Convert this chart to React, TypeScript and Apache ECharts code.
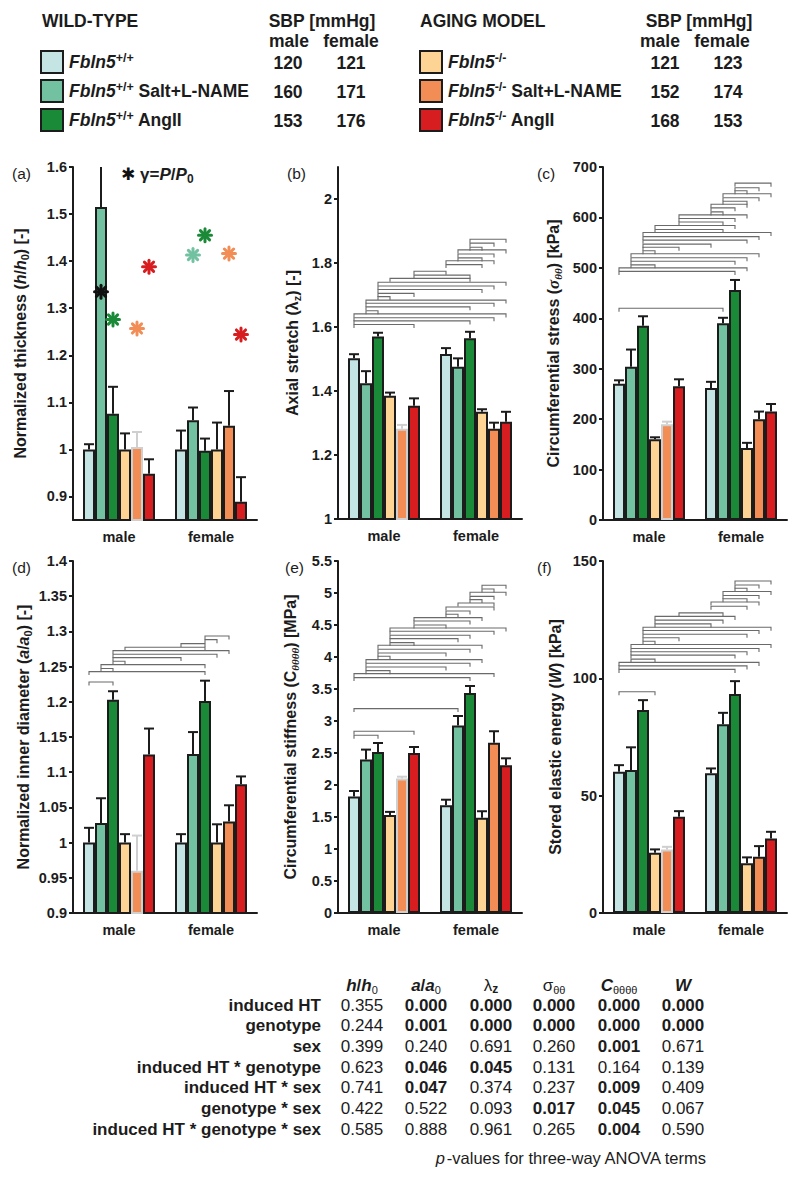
import React, { useEffect, useRef } from 'react';
import * as echarts from 'echarts';

const FONT = "'Liberation Sans', Arial, Helvetica, sans-serif";
const SERIF = "'Liberation Serif', 'Times New Roman', serif";

// ---------- categories ----------
const sexes = ['male', 'female'];
const groupKeys = ['wt', 'wtSalt', 'wtAng', 'ko', 'koSalt', 'koAng'];
const groupColors = ['#c4e5e3', '#72c1a1', '#1b8a38', '#fdd493', '#f18d55', '#d71d1f'];

// ---------- legend / SBP ----------
const sbpMale = [120, 160, 153, 121, 152, 168];
const sbpFemale = [121, 171, 176, 123, 174, 153];

// ---------- (a) normalized thickness h/h0 ----------
const hMaleMean = [1.0, 1.515, 1.076, 1.0, 1.005, 0.948];
const hMaleErr = [1.011, 1.6, 1.133, 1.034, 1.037, 0.979];
const hFemaleMean = [1.0, 1.062, 0.997, 1.0, 1.05, 0.889];
const hFemaleErr = [1.04, 1.089, 1.023, 1.057, 1.124, 0.941];
const hTicks = [0.9, 1, 1.1, 1.2, 1.3, 1.4, 1.5, 1.6];
const gammaMale = [null, 1.335, 1.276, null, 1.257, 1.388];
const gammaFemale = [null, 1.413, 1.455, null, 1.416, 1.244];

// ---------- (b) axial stretch ----------
const lzMaleMean = [1.502, 1.424, 1.57, 1.385, 1.282, 1.354];
const lzMaleErr = [1.515, 1.462, 1.582, 1.395, 1.294, 1.377];
const lzFemaleMean = [1.516, 1.476, 1.565, 1.335, 1.282, 1.304];
const lzFemaleErr = [1.534, 1.502, 1.585, 1.343, 1.301, 1.335];
const lzTicks = [1, 1.2, 1.4, 1.6, 1.8, 2];
const lzBrackets = [
  [8, 11, 1.874], [8, 10, 1.862], [8, 9, 1.849], [7, 11, 1.841], [7, 10, 1.828], [7, 9, 1.816],
  [6, 10, 1.807], [6, 9, 1.795], [5, 6, 1.774], [5, 8, 1.762], [3, 8, 1.752], [2, 11, 1.74],
  [2, 10, 1.728], [2, 9, 1.717], [2, 5, 1.705], [2, 3, 1.695], [1, 11, 1.684], [1, 10, 1.674],
  [1, 8, 1.663], [1, 2, 1.651], [0, 11, 1.641], [0, 10, 1.629], [0, 8, 1.619], [0, 5, 1.608],
];

// ---------- (c) circumferential stress ----------
const sMaleMean = [270, 304, 385, 160, 190, 265];
const sMaleErr = [277, 338, 404, 164, 195, 279];
const sFemaleMean = [262, 390, 456, 143, 200, 215];
const sFemaleErr = [274, 401, 476, 153, 215, 230];
const sTicks = [0, 100, 200, 300, 400, 500, 600, 700];
const sBrackets = [
  [8, 11, 668], [8, 10, 659], [8, 9, 653], [7, 11, 647], [7, 10, 639], [7, 9, 632], [6, 9, 626],
  [6, 8, 619], [6, 7, 611], [5, 9, 605], [5, 8, 598], [5, 7, 591], [3, 8, 584], [3, 7, 576],
  [2, 11, 570], [2, 10, 562], [2, 9, 555], [2, 6, 547], [2, 5, 541], [2, 3, 534], [1, 10, 528],
  [1, 9, 520], [1, 8, 513], [1, 3, 506], [0, 9, 500], [0, 8, 493], [0, 7, 420],
];

// ---------- (d) normalized inner diameter ----------
const aMaleMean = [1.0, 1.028, 1.203, 1.0, 0.96, 1.125];
const aMaleErr = [1.021, 1.063, 1.215, 1.012, 1.01, 1.162];
const aFemaleMean = [1.0, 1.126, 1.201, 1.0, 1.03, 1.083];
const aFemaleErr = [1.012, 1.157, 1.23, 1.026, 1.053, 1.094];
const aTicks = [0.9, 0.95, 1, 1.05, 1.1, 1.15, 1.2, 1.25, 1.3, 1.35, 1.4];
const aBrackets = [
  [8, 10, 1.2935], [8, 9, 1.2883], [6, 8, 1.2827], [3, 8, 1.2774], [2, 10, 1.2727], [2, 9, 1.2675],
  [2, 6, 1.2628], [2, 3, 1.2575], [1, 8, 1.2528], [1, 2, 1.2472], [0, 8, 1.2429], [0, 2, 1.2281],
];

// ---------- (e) circumferential stiffness ----------
const cMaleMean = [1.82, 2.4, 2.516, 1.53, 2.1, 2.5];
const cMaleErr = [1.906, 2.553, 2.656, 1.58, 2.13, 2.594];
const cFemaleMean = [1.683, 2.928, 3.438, 1.49, 2.66, 2.308];
const cFemaleErr = [1.77, 3.078, 3.547, 1.59, 2.84, 2.417];
const cTicks = [0, 0.5, 1, 1.5, 2, 2.5, 3, 3.5, 4, 4.5, 5, 5.5];
const cBrackets = [
  [9, 11, 5.12], [9, 10, 5.063], [8, 11, 5.011], [8, 10, 4.948], [8, 9, 4.897], [7, 10, 4.844],
  [6, 10, 4.781], [6, 8, 4.719], [6, 7, 4.667], [5, 9, 4.616], [5, 8, 4.563], [5, 6, 4.5],
  [3, 11, 4.453], [3, 10, 4.402], [3, 8, 4.339], [3, 7, 4.287], [3, 5, 4.225], [2, 9, 4.183],
  [2, 8, 4.12], [2, 6, 4.063], [2, 3, 4.011], [1, 9, 3.959], [1, 8, 3.902], [1, 6, 3.844],
  [1, 3, 3.787], [0, 10, 3.741], [0, 8, 3.678], [0, 7, 3.194], [0, 5, 2.839], [0, 2, 2.777],
];

// ---------- (f) stored elastic energy ----------
const wMaleMean = [60.2, 60.9, 86.5, 25.7, 27.1, 41.0];
const wMaleErr = [63.0, 70.6, 90.7, 27.1, 28.2, 43.4];
const wFemaleMean = [59.5, 80.4, 93.3, 21.2, 24.0, 31.8];
const wFemaleErr = [61.6, 85.3, 98.8, 23.7, 28.5, 34.6];
const wTicks = [0, 50, 100, 150];
const wBrackets = [
  [8, 11, 141.5], [8, 10, 139.8], [8, 9, 138.4], [7, 11, 137.0], [7, 10, 135.3], [7, 9, 133.9],
  [6, 10, 132.5], [6, 9, 130.7], [5, 7, 127.9], [3, 8, 126.4], [3, 7, 124.8], [3, 6, 123.2],
  [2, 11, 121.8], [2, 10, 120.4], [2, 9, 118.8], [2, 5, 117.3], [2, 3, 115.8], [1, 11, 114.4],
  [1, 10, 112.7], [1, 9, 111.3], [1, 8, 109.9], [1, 3, 108.2], [0, 10, 106.8], [0, 9, 105.3],
  [0, 8, 103.8], [0, 3, 94.3],
];

// ---------- ANOVA table ----------
const anovaTerms = [
  'induced HT', 'genotype', 'sex', 'induced HT * genotype', 'induced HT * sex',
  'genotype * sex', 'induced HT * genotype * sex',
];
const pThickness = ['0.355', '0.244', '0.399', '0.623', '0.741', '0.422', '0.585'];
const pDiameter = ['0.000', '0.001', '0.240', '0.046', '0.047', '0.522', '0.888'];
const pStretch = ['0.000', '0.000', '0.691', '0.045', '0.374', '0.093', '0.961'];
const pStress = ['0.000', '0.000', '0.260', '0.131', '0.237', '0.017', '0.265'];
const pStiffness = ['0.000', '0.000', '0.001', '0.164', '0.009', '0.045', '0.004'];
const pEnergy = ['0.000', '0.000', '0.671', '0.139', '0.409', '0.067', '0.590'];

// ---------- layout / style ----------
const BAR_W = 12;
const INK = '#1c1c1c';
const GREY = '#cfcfcf';

const nameRich = {
  t: { fontSize: 16, fontWeight: 'bold', fontFamily: FONT, color: INK, lineHeight: 20 },
  ti: { fontSize: 16, fontWeight: 'bold', fontStyle: 'italic', fontFamily: FONT, color: INK, lineHeight: 20 },
  ts: { fontSize: 11, fontWeight: 'bold', fontFamily: FONT, color: INK, lineHeight: 10, verticalAlign: 'bottom' },
  g: { fontSize: 17, fontWeight: 'bold', fontStyle: 'italic', fontFamily: SERIF, color: INK, lineHeight: 20 },
  gs: { fontSize: 11, fontWeight: 'bold', fontStyle: 'italic', fontFamily: SERIF, color: INK, lineHeight: 10, verticalAlign: 'bottom' },
};

const panels = [
  {
    label: '(a)', maleMean: hMaleMean, maleErr: hMaleErr, femaleMean: hFemaleMean, femaleErr: hFemaleErr,
    ticks: hTicks, min: 0.85, max: 1.6, brackets: [] as number[][],
    name: '{t|Normalized thickness (}{ti|h}{t|/}{ti|h}{ts|0}{t|) [-]}',
    left: 73, top: 167, height: 353, nameGap: 43, labelX: 12,
  },
  {
    label: '(b)', maleMean: lzMaleMean, maleErr: lzMaleErr, femaleMean: lzFemaleMean, femaleErr: lzFemaleErr,
    ticks: lzTicks, min: 1, max: 2.1, brackets: lzBrackets,
    name: '{t|Axial stretch (λ}{ts|z}{t|) [-]}',
    left: 338, top: 167, height: 352, nameGap: 36, labelX: 287,
  },
  {
    label: '(c)', maleMean: sMaleMean, maleErr: sMaleErr, femaleMean: sFemaleMean, femaleErr: sFemaleErr,
    ticks: sTicks, min: 0, max: 700, brackets: sBrackets,
    name: '{t|Circumferential stress (}{g|σ}{gs|θθ}{t|) [kPa]}',
    left: 603, top: 167, height: 353, nameGap: 40, labelX: 537,
  },
  {
    label: '(d)', maleMean: aMaleMean, maleErr: aMaleErr, femaleMean: aFemaleMean, femaleErr: aFemaleErr,
    ticks: aTicks, min: 0.9, max: 1.4, brackets: aBrackets,
    name: '{t|Normalized inner diameter (}{ti|a}{t|/}{ti|a}{ts|0}{t|) [-]}',
    left: 73, top: 561, height: 352, nameGap: 40, labelX: 12,
  },
  {
    label: '(e)', maleMean: cMaleMean, maleErr: cMaleErr, femaleMean: cFemaleMean, femaleErr: cFemaleErr,
    ticks: cTicks, min: 0, max: 5.5, brackets: cBrackets,
    name: '{t|Circumferential stiffness (C}{gs|θθθθ}{t|) [MPa]}',
    left: 338, top: 561, height: 352, nameGap: 38, labelX: 285,
  },
  {
    label: '(f)', maleMean: wMaleMean, maleErr: wMaleErr, femaleMean: wFemaleMean, femaleErr: wFemaleErr,
    ticks: wTicks, min: 0, max: 150, brackets: wBrackets,
    name: '{t|Stored elastic energy (}{ti|W}{t|) [kPa]}',
    left: 603, top: 561, height: 352, nameGap: 38, labelX: 537,
  },
];

function isGrey(cat: number, g: number) {
  return cat === 0 && g === 4;
}

function buildOption() {
  const grid = panels.map((p) => ({ left: p.left, top: p.top, width: 184, height: p.height }));
  const xAxis = panels.map((p, i) => ({
    type: 'category', gridIndex: i, data: sexes,
    axisLine: { onZero: false, lineStyle: { color: INK, width: 2 } },
    axisTick: { alignWithLabel: true, length: 4, lineStyle: { color: INK, width: 2 } },
    axisLabel: { fontSize: 14.5, fontWeight: 'bold', fontFamily: FONT, color: INK, margin: 9 },
  }));
  const yAxis = panels.map((p, i) => ({
    type: 'value', gridIndex: i, min: p.min, max: p.max,
    splitLine: { show: false },
    axisLine: { show: true, lineStyle: { color: INK, width: 2 } },
    axisTick: { show: true, length: 4, customValues: p.ticks, lineStyle: { color: INK, width: 2 } },
    axisLabel: { customValues: p.ticks, fontSize: 14.5, fontWeight: 'bold', fontFamily: FONT, color: INK, margin: 6 },
    name: p.name, nameLocation: 'middle', nameRotate: 90, nameGap: p.nameGap,
    nameTextStyle: { rich: nameRich, fontSize: 16, fontWeight: 'bold', fontFamily: FONT, color: INK },
  }));

  const series: any[] = [];
  panels.forEach((p, i) => {
    groupKeys.forEach((key, g) => {
      series.push({
        type: 'bar', name: key, xAxisIndex: i, yAxisIndex: i, barWidth: BAR_W, barGap: '0%',
        silent: true, z: 2,
        itemStyle: { color: groupColors[g], borderColor: INK, borderWidth: 2 },
        data: [
          isGrey(0, g)
            ? { value: p.maleMean[g], itemStyle: { borderColor: GREY, borderWidth: 2 } }
            : p.maleMean[g],
          p.femaleMean[g],
        ],
      });
    });
    // error bars
    const errData: number[][] = [];
    groupKeys.forEach((_, g) => {
      errData.push([0, p.maleErr[g], g, p.maleMean[g]]);
      errData.push([1, p.femaleErr[g], g, p.femaleMean[g]]);
    });
    const axMax = p.max;
    series.push({
      type: 'custom', xAxisIndex: i, yAxisIndex: i, z: 4, silent: true,
      encode: { x: 0, y: 1 },
      data: errData,
      renderItem: (params: any, api: any) => {
        const cat = api.value(0);
        const err = api.value(1);
        const g = api.value(2);
        const mean = api.value(3);
        const top = api.coord([cat, err]);
        const base = api.coord([cat, mean]);
        const x = base[0] + (g - 2.5) * BAR_W;
        const color = isGrey(cat, g) ? GREY : INK;
        const children: any[] = [
          { type: 'line', shape: { x1: x, y1: base[1], x2: x, y2: top[1] }, style: { stroke: color, lineWidth: 2 } },
        ];
        if (err < axMax - 1e-9) {
          children.push({
            type: 'line', shape: { x1: x - 5, y1: top[1], x2: x + 5, y2: top[1] },
            style: { stroke: color, lineWidth: 2 },
          });
        }
        return { type: 'group', children };
      },
    });
    // significance brackets
    if (p.brackets.length) {
      series.push({
        type: 'custom', xAxisIndex: i, yAxisIndex: i, z: 3, silent: true,
        encode: { x: 0, y: 1 },
        data: p.brackets.map((b) => [Math.floor(b[0] / 6), b[2], b[0] % 6, Math.floor(b[1] / 6), b[1] % 6]),
        renderItem: (params: any, api: any) => {
          const p1 = api.coord([api.value(0), api.value(1)]);
          const p2 = api.coord([api.value(3), api.value(1)]);
          const x1 = p1[0] + (api.value(2) - 2.5) * BAR_W;
          const x2 = p2[0] + (api.value(4) - 2.5) * BAR_W;
          const y = p1[1];
          return {
            type: 'polyline',
            shape: { points: [[x1, y + 3.5], [x1, y], [x2, y], [x2, y + 3.5]] },
            style: { stroke: '#6a6a6a', lineWidth: 1.1, fill: 'none' },
          };
        },
      });
    }
  });

  // gamma asterisks in panel (a)
  const gammaData: number[][] = [];
  groupKeys.forEach((_, g) => {
    if (gammaMale[g] != null) gammaData.push([0, gammaMale[g] as number, g]);
    if (gammaFemale[g] != null) gammaData.push([1, gammaFemale[g] as number, g]);
  });
  series.push({
    type: 'custom', xAxisIndex: 0, yAxisIndex: 0, z: 5, silent: true,
    encode: { x: 0, y: 1 },
    data: gammaData,
    renderItem: (params: any, api: any) => {
      const cat = api.value(0);
      const v = api.value(1);
      const g = api.value(2);
      const c = api.coord([cat, v]);
      const x = c[0] + (g - 2.5) * BAR_W;
      const y = c[1];
      const barTop = cat === 0 ? hMaleMean[g] : hFemaleMean[g];
      const color = v < barTop ? '#111' : groupColors[g];
      const r = 6.5;
      const spokes = [0, 1, 2, 3].map((k) => {
        const a = (k * Math.PI) / 4;
        return {
          type: 'line',
          shape: { x1: x - r * Math.cos(a), y1: y - r * Math.sin(a), x2: x + r * Math.cos(a), y2: y + r * Math.sin(a) },
          style: { stroke: color, lineWidth: 3, lineCap: 'round' },
        };
      });
      return { type: 'group', children: spokes };
    },
  });

  // ---------- graphic: legend, panel labels, table ----------
  const graphic: any[] = [];
  const txt = (x: number, y: number, text: string, extra: any = {}) => ({
    type: 'text', x, y, silent: true,
    style: {
      text, fill: INK, fontFamily: FONT, fontSize: 17.5, fontWeight: 'bold',
      textAlign: 'left', textVerticalAlign: 'middle', align: 'left', verticalAlign: 'middle', ...extra,
    },
  });
  const legRich = {
    it: { fontSize: 17.5, fontWeight: 'bold', fontStyle: 'italic', fontFamily: FONT, fill: INK, color: INK, lineHeight: 22 },
    sup: { fontSize: 12.5, fontWeight: 'bold', fontFamily: FONT, fill: INK, color: INK, lineHeight: 12, verticalAlign: 'top' },
    b: { fontSize: 17.5, fontWeight: 'bold', fontFamily: FONT, fill: INK, color: INK, lineHeight: 22 },
  };
  graphic.push(txt(42, 21, 'WILD-TYPE'));
  graphic.push(txt(322, 21, 'SBP [mmHg]', { textAlign: 'center', align: 'center' }));
  graphic.push(txt(289, 41, 'male', { textAlign: 'center', align: 'center' }));
  graphic.push(txt(351, 41, 'female', { textAlign: 'center', align: 'center' }));
  graphic.push(txt(420, 21, 'AGING MODEL'));
  graphic.push(txt(699, 21, 'SBP [mmHg]', { textAlign: 'center', align: 'center' }));
  graphic.push(txt(660, 41, 'male', { textAlign: 'center', align: 'center' }));
  graphic.push(txt(722, 41, 'female', { textAlign: 'center', align: 'center' }));
  const rowY = [62, 91, 120];
  const suffixes = ['', ' Salt+L-NAME', ' AngII'];
  groupKeys.forEach((_, g) => {
    const aging = g >= 3;
    const r = g % 3;
    const sx = aging ? 420 : 41;
    const y = rowY[r];
    graphic.push({
      type: 'rect', silent: true,
      shape: { x: sx, y: y - 11, width: 22, height: 22 },
      style: { fill: groupColors[g], stroke: INK, lineWidth: 2 },
    });
    const sup = aging ? '-/-' : '+/+';
    const text = `{it|Fbln5}{sup|${sup}}` + (suffixes[r] ? `{b|${suffixes[r]}}` : '');
    graphic.push(txt(sx + 28, y, text, { rich: legRich }));
    graphic.push(txt(aging ? 665 : 288, y + 1, String(sbpMale[g]), { textAlign: 'center', align: 'center' }));
    graphic.push(txt(aging ? 728 : 351, y + 1, String(sbpFemale[g]), { textAlign: 'center', align: 'center' }));
  });

  // panel labels
  panels.forEach((p) => {
    graphic.push(txt(p.labelX, p.top + 6, p.label, { fontSize: 15.5, fontWeight: 'normal' }));
  });
  // gamma legend in (a)
  graphic.push(txt(121, 174, '{s|✱} {g|γ=}{bi|P}{g|/}{bi|P}{sub|0}', {
    rich: {
      s: { fontSize: 17, fontFamily: "'DejaVu Sans', sans-serif", fill: '#111', color: '#111', lineHeight: 22 },
      g: { fontSize: 17, fontWeight: 'bold', fontFamily: FONT, fill: INK, color: INK, lineHeight: 22 },
      bi: { fontSize: 17, fontWeight: 'bold', fontStyle: 'italic', fontFamily: FONT, fill: INK, color: INK, lineHeight: 22 },
      sub: { fontSize: 12, fontWeight: 'bold', fontFamily: FONT, fill: INK, color: INK, lineHeight: 12, verticalAlign: 'bottom' },
    },
  }));

  // ANOVA table
  const colX = [362, 426, 491, 554, 619, 683];
  const colVals = [pThickness, pDiameter, pStretch, pStress, pStiffness, pEnergy];
  const headRich = {
    bi: { fontSize: 17, fontWeight: 'bold', fontStyle: 'italic', fontFamily: FONT, fill: INK, color: INK, lineHeight: 20 },
    b: { fontSize: 17, fontWeight: 'bold', fontFamily: FONT, fill: INK, color: INK, lineHeight: 20 },
    r: { fontSize: 17, fontFamily: FONT, fill: INK, color: INK, lineHeight: 20 },
    sub: { fontSize: 11, fontFamily: FONT, fill: INK, color: INK, lineHeight: 10, verticalAlign: 'bottom' },
    subb: { fontSize: 12, fontWeight: 'bold', fontFamily: FONT, fill: INK, color: INK, lineHeight: 10, verticalAlign: 'bottom' },
  };
  const heads = [
    '{bi|h}{b|/}{bi|h}{sub|0}', '{bi|a}{b|/}{bi|a}{sub|0}', '{r|λ}{subb|z}',
    '{r|σ}{sub|θθ}', '{bi|C}{sub|θθθθ}', '{bi|W}',
  ];
  heads.forEach((h, c) => {
    graphic.push(txt(colX[c], 985, h, { rich: headRich, textAlign: 'center', align: 'center', fontSize: 17 }));
  });
  anovaTerms.forEach((term, r) => {
    const y = 1005 + r * 20.7;
    graphic.push(txt(321, y, term, { fontSize: 17, textAlign: 'right', align: 'right' }));
    colVals.forEach((vals, c) => {
      const sig = parseFloat(vals[r]) < 0.05;
      graphic.push(txt(colX[c], y, vals[r], {
        fontSize: 17, fontWeight: sig ? 'bold' : 'normal', textAlign: 'center', align: 'center',
      }));
    });
  });
  graphic.push(txt(706, 1158, '{i|p}{r|-values for three-way ANOVA terms}', {
    textAlign: 'right', align: 'right',
    rich: {
      i: { fontSize: 16.5, fontStyle: 'italic', fontFamily: FONT, fill: INK, color: INK },
      r: { fontSize: 16.5, fontFamily: FONT, fill: INK, color: INK },
    },
  }));

  return {
    animation: false,
    backgroundColor: '#ffffff',
    grid, xAxis, yAxis, series, graphic,
  };
}

export default function App() {
  const ref = useRef<HTMLDivElement>(null);
  useEffect(() => {
    document.body.style.margin = '0';
    const chart = echarts.init(ref.current as HTMLDivElement, null, { renderer: 'svg' });
    chart.setOption(buildOption() as any);
    return () => chart.dispose();
  }, []);
  return <div ref={ref} style={{ width: 800, height: 1179, background: '#fff' }} />;
}
